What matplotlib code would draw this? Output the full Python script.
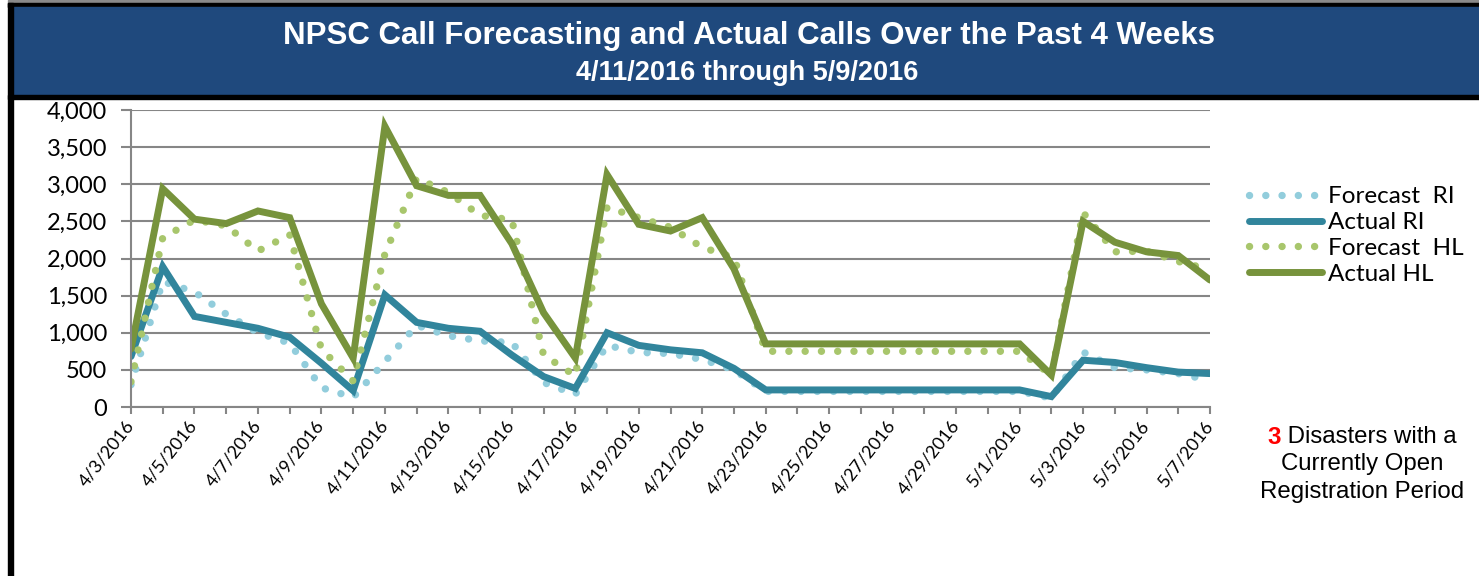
import matplotlib
matplotlib.use('Agg')
import matplotlib.pyplot as plt
from matplotlib.patches import Rectangle
import pandas as pd

W, H = 1479, 576

# Categories: one point per day
dates = pd.date_range('2016-04-03', '2016-05-07', freq='D')

forecast_ri = [300, 1690, 1550, 1250, 1000, 860, 260, 130, 610, 1100, 960, 890,
               870, 330, 170, 830, 735, 720, 640, 500, 210, 210, 210, 210, 210,
               210, 210, 210, 210, 120, 740, 530, 500, 450, 360]
actual_ri = [680, 1890, 1220, 1140, 1060, 940, 590, 220, 1510, 1140, 1060, 1020,
             700, 410, 250, 1000, 830, 770, 730, 520, 230, 230, 230, 230, 230,
             230, 230, 230, 230, 140, 630, 600, 530, 470, 450]
forecast_hl = [340, 2280, 2520, 2440, 2100, 2320, 780, 350, 2060, 3080, 2890, 2580,
               2520, 700, 420, 2690, 2550, 2420, 2150, 2010, 750, 750, 750, 750, 750,
               750, 750, 750, 750, 430, 2620, 2090, 2100, 1960, 1850]
actual_hl = [780, 2940, 2530, 2470, 2640, 2550, 1390, 660, 3780, 2980, 2850, 2850,
             2200, 1270, 660, 3130, 2460, 2370, 2550, 1860, 850, 850, 850, 850, 850,
             850, 850, 850, 850, 430, 2500, 2220, 2090, 2040, 1710]

series_labels = ['Forecast  RI', 'Actual RI', 'Forecast  HL', 'Actual HL']
y_ticks = [0, 500, 1000, 1500, 2000, 2500, 3000, 3500, 4000]

title = 'NPSC Call Forecasting and Actual Calls Over the Past 4 Weeks'
subtitle = '4/11/2016 through 5/9/2016'
note_count = '3'
note_lines = [' Disasters with a', 'Currently Open', 'Registration Period']


def fx(px):
    return px / W


def fy(py):
    return 1 - py / H


fig = plt.figure(figsize=(W / 100, H / 100), dpi=100)

# Frame and title banner
fig.patches.append(Rectangle((fx(8), fy(7)), 1, fy(0) - fy(7), color='#8a8a8a',
                             transform=fig.transFigure, zorder=0))
fig.patches.append(Rectangle((fx(8), fy(7)), 1, fy(3) - fy(7), color='black',
                             transform=fig.transFigure, zorder=1))
fig.patches.append(Rectangle((fx(12), fy(96)), 1, fy(7) - fy(96), color='#1f497d',
                             transform=fig.transFigure, zorder=1))
fig.patches.append(Rectangle((fx(8), fy(99)), 1, fy(95) - fy(99), color='black',
                             transform=fig.transFigure, zorder=1))
fig.patches.append(Rectangle((fx(8), 0), fx(4.5), fy(3), color='black',
                             transform=fig.transFigure, zorder=1))

fig.text(fx(749), fy(36), title, color='white', fontsize=22.5, fontweight='bold',
         family='Liberation Sans', ha='center', va='center')
fig.text(fx(747), fy(73), subtitle, color='white', fontsize=19.5, fontweight='bold',
         family='Liberation Sans', ha='center', va='center')

ax = fig.add_axes([fx(131), fy(407), fx(1210) - fx(131), fy(110) - fy(407)])

dot_style = dict(linestyle=(0, (0.01, 2.2)), dash_capstyle='round', linewidth=5.3)
ax.plot(dates, forecast_ri, color='#92cddc', label=series_labels[0], **dot_style)
ax.plot(dates, actual_ri, color='#31859c', linewidth=5, solid_capstyle='round',
        solid_joinstyle='miter', label=series_labels[1])
ax.plot(dates, forecast_hl, color='#a8c66c', label=series_labels[2], **dot_style)
ax.plot(dates, actual_hl, color='#77933c', linewidth=5, solid_capstyle='round',
        solid_joinstyle='miter', label=series_labels[3])

ax.set_xlim(dates[0], dates[-1])
ax.set_ylim(0, 4000)
ax.set_yticks(y_ticks)
ax.set_yticklabels(['{:,}'.format(v) for v in y_ticks], family='Lato', fontsize=17)
ax.set_xticks(dates)
ax.set_xticklabels([f'{d.month}/{d.day}/{d.year}' if i % 2 == 0 else ''
                    for i, d in enumerate(dates)],
                   family='Lato', fontsize=13, rotation=52, ha='right',
                   rotation_mode='anchor', va='center')
ax.grid(axis='y', color='#868686', linewidth=1.5)
ax.set_axisbelow(True)
for side in ('top', 'right'):
    ax.spines[side].set_visible(False)
for side in ('left', 'bottom'):
    ax.spines[side].set_color('#868686')
    ax.spines[side].set_linewidth(1.5)
ax.tick_params(axis='y', length=7, width=1.5, color='#868686', pad=10)
ax.tick_params(axis='x', length=5, width=1.5, color='#868686', pad=6)

ax.legend(loc='upper left', bbox_to_anchor=(fx(1237), fy(174)),
          bbox_transform=fig.transFigure, frameon=False, prop={'family': 'Lato', 'size': 17.5},
          handlelength=3.0, handletextpad=0.25, labelspacing=0.2, borderpad=0)

fig.text(fx(1281), fy(437), note_count, color='#ff0000', fontsize=17.3, fontweight='bold',
         family='Liberation Sans', ha='right', va='center')
fig.text(fx(1281), fy(437), note_lines[0], color='black', fontsize=17.3,
         family='Liberation Sans', ha='left', va='center')
fig.text(fx(1362), fy(464), note_lines[1], color='black', fontsize=17.3,
         family='Liberation Sans', ha='center', va='center')
fig.text(fx(1362), fy(492), note_lines[2], color='black', fontsize=17.3,
         family='Liberation Sans', ha='center', va='center')

fig.savefig('out.png', dpi=100)
